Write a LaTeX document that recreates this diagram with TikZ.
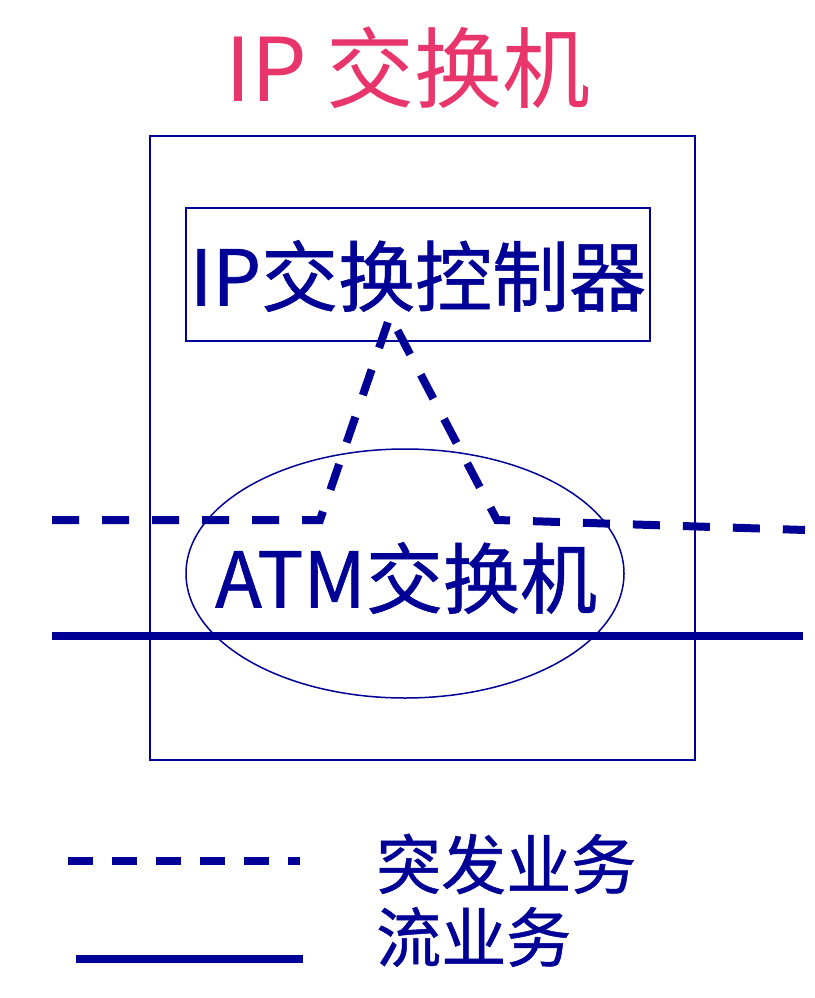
\documentclass[tikz,border=0pt]{standalone}
\usepackage{fontspec}
\setmainfont{Noto Sans CJK SC}
\newfontfamily\medfont[FakeBold=0.8]{Noto Sans CJK SC}
\usetikzlibrary{shapes.geometric}
\definecolor{navy}{RGB}{0,0,150}
\definecolor{rose}{RGB}{232,54,108}
\tikzset{
  thinframe/.style={draw=navy, line width=1.5pt, inner sep=0pt},
  bigtext/.style={text=navy, inner sep=0pt, font=\medfont\fontsize{77}{80}\selectfont},
  burst/.style={draw=navy, line width=8pt, dash pattern=on 27pt off 23pt},
  flow/.style={draw=navy, line width=8pt},
  legtext/.style={text=navy, anchor=west, inner sep=0pt, font=\medfont\fontsize{65}{70}\selectfont},
}
\begin{document}
\begin{tikzpicture}[x=1pt,y=-1pt]
\useasboundingbox (0,0) rectangle (814,998);
\node[text=rose, font=\fontsize{88}{92}\selectfont] (title) at (408,68) {IP 交换机};
\node[thinframe, minimum width=545pt, minimum height=624pt] (outer) at (422.5,448) {};
\node[thinframe, minimum width=464pt, minimum height=133pt] (ctrl) at (418,274.5) {};
\node[bigtext] (ctrltext) at (418,276) {IP交换控制器};
\node[thinframe, ellipse, minimum width=438pt, minimum height=249pt] (atm) at (405,573.5) {};
\node[bigtext] (atmtext) at (406,578) {ATM交换机};
\coordinate (dl) at (52,520);
\coordinate (d1) at (320,520);
\coordinate (apex) at (390,316);
\coordinate (d2) at (497,520);
\coordinate (dr) at (805,530);
\draw[burst] (dl) -- (d1) -- (apex) -- (d2) -- (dr);
\coordinate (sl) at (52,636);
\coordinate (sr) at (803,636);
\draw[flow] (sl) -- (sr);
\coordinate (ld1) at (68,861);
\coordinate (ld2) at (300,861);
\draw[burst, dash pattern=on 25pt off 19pt] (ld1) -- (ld2);
\coordinate (ls1) at (76,959);
\coordinate (ls2) at (303,959);
\draw[flow] (ls1) -- (ls2);
\node[legtext] (lg1) at (376,864) {突发业务};
\node[legtext] (lg2) at (376,937) {流业务};
\end{tikzpicture}
\end{document}
